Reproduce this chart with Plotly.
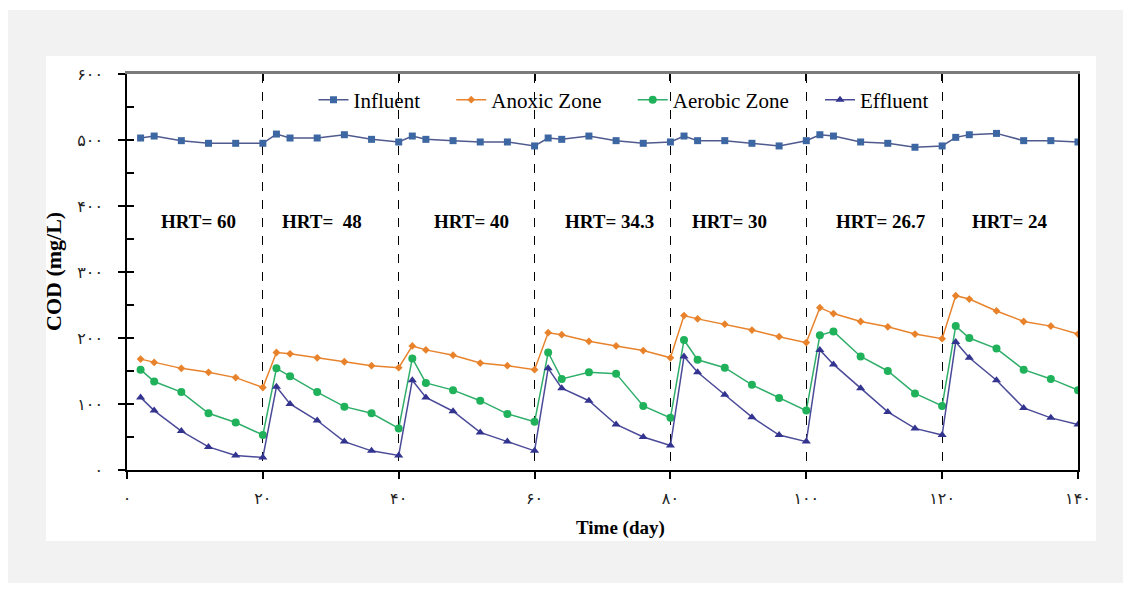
import plotly.graph_objects as go

# ---- data ----
days = [2, 4, 8, 12, 16, 20,
        22, 24, 28, 32, 36, 40,
        42, 44, 48, 52, 56, 60,
        62, 64, 68, 72, 76, 80,
        82, 84, 88, 92, 96, 100,
        102, 104, 108, 112, 116, 120,
        122, 124, 128, 132, 136, 140]

influent = [503, 506, 499, 495, 495, 495,
            509, 503, 503, 508, 501, 497,
            506, 501, 499, 497, 497, 491,
            503, 501, 506, 499, 495, 497,
            506, 499, 499, 495, 491, 499,
            508, 506, 497, 495, 489, 491,
            504, 508, 510, 499, 499, 497]

anoxic = [168, 163, 154, 148, 140, 125,
          178, 176, 170, 164, 158, 155,
          188, 182, 174, 162, 158, 152,
          208, 205, 195, 188, 181, 170,
          234, 229, 221, 212, 202, 193,
          246, 237, 225, 217, 206, 199,
          264, 259, 241, 225, 218, 206]

aerobic = [152, 134, 118, 86, 72, 53,
           154, 142, 118, 96, 86, 63,
           169, 132, 121, 105, 85, 73,
           178, 138, 148, 146, 97, 79,
           197, 167, 155, 129, 109, 90,
           204, 210, 172, 150, 116, 97,
           218, 200, 184, 152, 138, 121]

effluent = [110, 90, 59, 35, 22, 19,
            126, 100, 75, 43, 29, 22,
            136, 110, 89, 57, 43, 29,
            154, 124, 105, 69, 50, 37,
            172, 148, 114, 80, 53, 43,
            182, 160, 124, 88, 63, 53,
            194, 170, 136, 94, 79, 69]

series_names = ["Influent", "Anoxic Zone", "Aerobic Zone", "Effluent"]

x_tick_vals = [0, 20, 40, 60, 80, 100, 120, 140]
x_tick_text = ["۰", "۲۰", "۴۰", "۶۰", "۸۰", "۱۰۰", "۱۲۰", "۱۴۰"]
y_tick_vals = [0, 100, 200, 300, 400, 500, 600]
y_tick_text = ["۰", "۱۰۰", "۲۰۰", "۳۰۰", "۴۰۰", "۵۰۰", "۶۰۰"]

hrt_labels = ["HRT= 60", "HRT=\u00a0 48", "HRT= 40", "HRT= 34.3", "HRT= 30", "HRT= 26.7", "HRT= 24"]
hrt_x = [10.5, 28.7, 50.7, 71, 88.7, 111, 130]
hrt_y = 376

SERIF = "Liberation Serif, Times New Roman, DejaVu Sans, serif"
PAD = "\u00a0" * 5

fig = go.Figure()

fig.add_trace(go.Scatter(x=days, y=influent, name=series_names[0] + PAD, mode="lines+markers",
                         line=dict(color="#4f5a8e", width=1.5),
                         marker=dict(symbol="square", size=7, color="#3d67a3")))
fig.add_trace(go.Scatter(x=days, y=anoxic, name=series_names[1] + PAD, mode="lines+markers",
                         line=dict(color="#e8832c", width=1.5),
                         marker=dict(symbol="diamond", size=6, color="#e8832c")))
fig.add_trace(go.Scatter(x=days, y=aerobic, name=series_names[2] + PAD, mode="lines+markers",
                         line=dict(color="#2fae6a", width=1.5),
                         marker=dict(symbol="circle", size=8, color="#1fb25a")))
fig.add_trace(go.Scatter(x=days, y=effluent, name=series_names[3], mode="lines+markers",
                         line=dict(color="#4a4a98", width=1.5),
                         marker=dict(symbol="triangle-up", size=8, color="#333390")))

# dummy traces to realise the helper axes
fig.add_trace(go.Scatter(x=[None], y=[None], xaxis="x2", yaxis="y", showlegend=False, hoverinfo="skip"))
fig.add_trace(go.Scatter(x=[None], y=[None], xaxis="x", yaxis="y2", showlegend=False, hoverinfo="skip"))
fig.add_trace(go.Scatter(x=[None], y=[None], xaxis="x", yaxis="y3", showlegend=False, hoverinfo="skip"))

for lab, hx in zip(hrt_labels, hrt_x):
    fig.add_annotation(x=hx, y=hrt_y, xref="x", yref="y", text="<b>" + lab + "</b>",
                       showarrow=False, font=dict(family=SERIF, size=19, color="black"))

def px(xp):
    return (xp - 127) / 951

def py(yp):
    return (470 - yp) / 396

# axis titles
fig.add_annotation(x=px(620), y=py(528), xref="paper", yref="paper",
                   xanchor="center", yanchor="middle",
                   text="<b>Time (day)</b>", showarrow=False,
                   font=dict(family=SERIF, size=19, color="black"))
fig.add_annotation(x=px(53), y=py(272), xref="paper", yref="paper",
                   xanchor="center", yanchor="middle",
                   text="<b>COD (mg/L)</b>", showarrow=False, textangle=-90,
                   font=dict(family=SERIF, size=22, color="black"))

fig.add_shape(type="rect", xref="paper", yref="paper", x0=px(8), x1=px(1123), y0=py(583), y1=py(10),
              fillcolor="#f2f2f2", line=dict(width=0), layer="below")
fig.add_shape(type="rect", xref="paper", yref="paper", x0=px(46), x1=px(1096), y0=py(541), y1=py(56),
              fillcolor="white", line=dict(width=0), layer="below")

tickfont = dict(family=SERIF, size=16, color="#222222")

fig.update_layout(
    width=1130, height=589,
    margin=dict(l=127, r=52, t=74, b=119),
    paper_bgcolor="white", plot_bgcolor="white",
    showlegend=True,
    legend=dict(orientation="h", x=px(624), y=py(100), xanchor="center", yanchor="middle",
                font=dict(family="Liberation Serif", size=21, color="black"), bgcolor="rgba(0,0,0,0)",
                itemwidth=30, tracegroupgap=0),
    xaxis=dict(range=[0, 140], tickvals=x_tick_vals, ticktext=x_tick_text, tickfont=tickfont,
               ticks="outside", ticklen=7, tickwidth=1.5, tickcolor="black",
               showline=True, linecolor="black", linewidth=1.5,
               showgrid=True, gridcolor="black", griddash="dash", gridwidth=1,
               zeroline=False, ticklabelstandoff=6, fixedrange=True),
    xaxis2=dict(range=[0, 140], overlaying="x", side="top", anchor="y",
                tickvals=x_tick_vals, ticks="inside", ticklen=7, tickwidth=1.5, tickcolor="black",
                showticklabels=False, showline=True, linecolor="#7a7a7a", linewidth=2.5,
                showgrid=False, zeroline=False),
    yaxis=dict(range=[0, 600], tickvals=y_tick_vals, ticktext=y_tick_text, tickfont=tickfont,
               ticks="outside", ticklen=7, tickwidth=1.5, tickcolor="black",
               showline=True, linecolor="black", linewidth=1.5,
               showgrid=False, zeroline=False, ticklabelstandoff=12),
    yaxis2=dict(range=[0, 600], overlaying="y", side="left", anchor="x",
                dtick=50, tick0=0, ticks="inside", ticklen=7, tickwidth=1.5, tickcolor="black",
                showticklabels=False, showline=False, showgrid=False, zeroline=False),
    yaxis3=dict(range=[0, 600], overlaying="y", side="right", anchor="x",
                ticks="", showticklabels=False, showline=True, linecolor="black", linewidth=1.5,
                showgrid=False, zeroline=False),
)

fig.write_html("out.html")
